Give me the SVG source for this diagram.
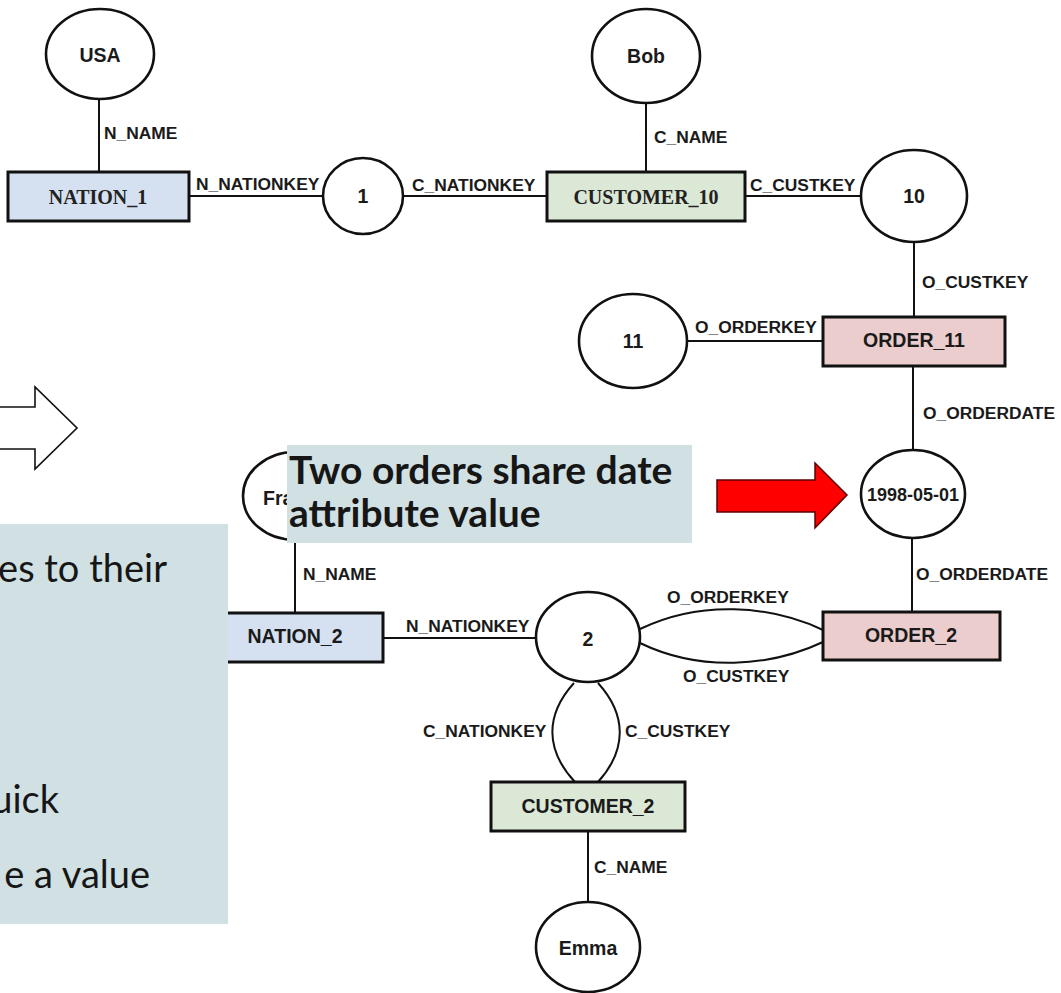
<svg xmlns="http://www.w3.org/2000/svg" width="1061" height="993" viewBox="0 0 1061 993">
  <style>
    .attr { fill: #ffffff; stroke: #111111; stroke-width: 2.6; }
    .ent { stroke: #111111; stroke-width: 3; }
    .nation { fill: #d5e1f0; }
    .customer { fill: #dce8d6; }
    .order { fill: #ebcdcd; }
    .edge { fill: none; stroke: #111111; stroke-width: 2; }
    .sans { font-family: "Liberation Sans", Arial, sans-serif; font-weight: bold; fill: #1a1a1a; }
    .serif { font-family: "Liberation Serif", "Times New Roman", serif; font-weight: bold; fill: #222222; font-size: 20px; }
    .val { font-size: 19.5px; text-anchor: middle; }
    .lbl { font-size: 17.4px; }
    .note { fill: #d0e0e3; }
    .lato { font-family: Lato, "Open Sans", sans-serif; fill: #161616; }
  </style>

  <!-- hollow block arrow -->
  <polygon points="-5,407 35,407 35,387 77,428 35,469 35,449 -5,449" fill="#ffffff" stroke="#111111" stroke-width="1.6"/>

  <!-- connectors -->
  <g id="connectors">
    <line class="edge" x1="99" y1="99" x2="99" y2="172"/>
    <line class="edge" x1="189" y1="196" x2="323" y2="196"/>
    <line class="edge" x1="403" y1="196" x2="547" y2="196"/>
    <line class="edge" x1="646" y1="103" x2="646" y2="172"/>
    <line class="edge" x1="745" y1="196" x2="861" y2="196"/>
    <line class="edge" x1="914" y1="242" x2="914" y2="317"/>
    <line class="edge" x1="687" y1="341" x2="823" y2="341"/>
    <line class="edge" x1="913" y1="366" x2="913" y2="450"/>
    <line class="edge" x1="912" y1="538" x2="912" y2="612"/>
    <line class="edge" x1="295" y1="540" x2="295" y2="613"/>
    <line class="edge" x1="383" y1="638" x2="536" y2="638"/>
    <path class="edge" d="M640,629 C700,600 770,605 823,630"/>
    <path class="edge" d="M640,643 C700,672 770,667 823,642"/>
    <path class="edge" d="M574,683 C545,715 545,750 575,782"/>
    <path class="edge" d="M598,683 C627,715 627,750 598,782"/>
    <line class="edge" x1="588" y1="831" x2="588" y2="903"/>

    <text class="sans lbl" x="104" y="139">N_NAME</text>
    <text class="sans lbl" x="196" y="190">N_NATIONKEY</text>
    <text class="sans lbl" x="412" y="191">C_NATIONKEY</text>
    <text class="sans lbl" x="654" y="143">C_NAME</text>
    <text class="sans lbl" x="750" y="191">C_CUSTKEY</text>
    <text class="sans lbl" x="922" y="288">O_CUSTKEY</text>
    <text class="sans lbl" x="695" y="333">O_ORDERKEY</text>
    <text class="sans lbl" x="923" y="419">O_ORDERDATE</text>
    <text class="sans lbl" x="916" y="580">O_ORDERDATE</text>
    <text class="sans lbl" x="303" y="580">N_NAME</text>
    <text class="sans lbl" x="406" y="632">N_NATIONKEY</text>
    <text class="sans lbl" x="667" y="603">O_ORDERKEY</text>
    <text class="sans lbl" x="683" y="682">O_CUSTKEY</text>
    <text class="sans lbl" x="423" y="737">C_NATIONKEY</text>
    <text class="sans lbl" x="625" y="737">C_CUSTKEY</text>
    <text class="sans lbl" x="594" y="873">C_NAME</text>
  </g>

  <!-- attribute value nodes -->
  <g id="usa">
    <ellipse class="attr" cx="100" cy="54" rx="54" ry="45"/>
    <text class="sans val" x="100" y="62">USA</text>
  </g>
  <g id="v1">
    <ellipse class="attr" cx="363" cy="196" rx="40" ry="38"/>
    <text class="sans val" x="363" y="203">1</text>
  </g>
  <g id="bob">
    <ellipse class="attr" cx="646" cy="56" rx="54" ry="47"/>
    <text class="sans val" x="646" y="63">Bob</text>
  </g>
  <g id="v10">
    <ellipse class="attr" cx="914" cy="196" rx="53" ry="46"/>
    <text class="sans val" x="914" y="203">10</text>
  </g>
  <g id="v11">
    <ellipse class="attr" cx="633" cy="341" rx="54" ry="47"/>
    <text class="sans val" x="633" y="348">11</text>
  </g>
  <g id="date">
    <ellipse class="attr" cx="913" cy="494" rx="52" ry="44"/>
    <text class="sans val" x="913" y="501" style="font-size:18px">1998-05-01</text>
  </g>
  <g id="france">
    <ellipse class="attr" cx="295" cy="496" rx="52" ry="44"/>
    <text class="sans" x="263" y="505" font-size="19.5">Fra</text>
  </g>
  <g id="v2">
    <ellipse class="attr" cx="588" cy="637" rx="52" ry="45"/>
    <text class="sans val" x="588" y="646">2</text>
  </g>
  <g id="emma">
    <ellipse class="attr" cx="588" cy="947" rx="52" ry="45"/>
    <text class="sans val" x="588" y="955">Emma</text>
  </g>

  <!-- entity nodes -->
  <g id="nation_1">
    <rect class="ent nation" x="8" y="172" width="181" height="49"/>
    <text class="serif" x="98" y="203.5" text-anchor="middle">NATION_1</text>
  </g>
  <g id="customer_10">
    <rect class="ent customer" x="547" y="172" width="198" height="49"/>
    <text class="serif" x="646" y="203.5" text-anchor="middle">CUSTOMER_10</text>
  </g>
  <g id="order_11">
    <rect class="ent order" x="823" y="317" width="182" height="49"/>
    <text class="sans val" x="914" y="347">ORDER_11</text>
  </g>
  <g id="order_2">
    <rect class="ent order" x="823" y="612" width="177" height="48"/>
    <text class="sans val" x="911" y="642">ORDER_2</text>
  </g>
  <g id="nation_2">
    <rect class="ent nation" x="207" y="613" width="176" height="49"/>
    <text class="sans val" x="295" y="643">NATION_2</text>
  </g>
  <g id="customer_2">
    <rect class="ent customer" x="491" y="782" width="194" height="49"/>
    <text class="sans val" x="588" y="813">CUSTOMER_2</text>
  </g>

  <!-- callout -->
  <rect class="note" x="287" y="445" width="405" height="98"/>
  <text class="lato" x="289" y="484" font-size="39" font-weight="bold">Two orders share date</text>
  <text class="lato" x="289" y="527" font-size="39" font-weight="bold">attribute value</text>

  <polygon points="717,480 815,480 815,463 847,495 815,528 815,512 717,512" fill="#ff0000" stroke="#5a0000" stroke-width="1.5"/>

  <!-- side panel -->
  <rect class="note" x="-2" y="524" width="230" height="400"/>
  <text class="lato" x="167" y="582" font-size="38" text-anchor="end">es to their</text>
  <text class="lato" x="59" y="813" font-size="38" text-anchor="end">uick</text>
  <text class="lato" x="150" y="888" font-size="38" text-anchor="end">e a value</text>
</svg>
